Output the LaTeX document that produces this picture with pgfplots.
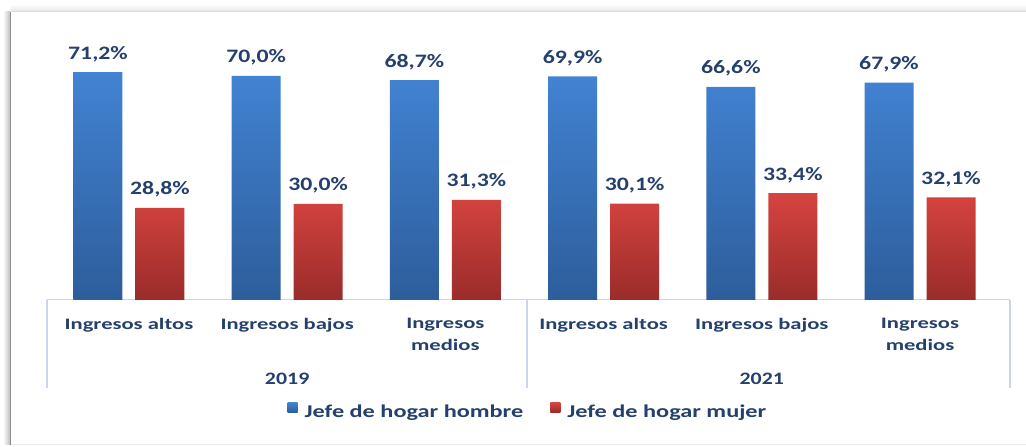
\documentclass[border=0pt]{standalone}
\usepackage{pgfplots}
\pgfplotsset{compat=1.18}
\usepackage{fontspec}
\setmainfont{Carlito}
\newfontfamily\fcatf{Carlito}[FakeStretch=1.41]
\newfontfamily\flabf{Carlito}[FakeStretch=1.25]
\newfontfamily\flegf{Carlito}[FakeStretch=1.35]
\newcommand\fcat{\fcatf\bfseries\fontsize{16bp}{21.5bp}\selectfont}
\newcommand\flab{\flabf\bfseries\fontsize{19bp}{22bp}\selectfont}
\newcommand\fyear{\flabf\bfseries\fontsize{17.5bp}{21bp}\selectfont}
\newcommand\fleg{\flegf\bfseries\fontsize{18bp}{21bp}\selectfont}
\definecolor{txt}{HTML}{24406C}
\definecolor{btop}{HTML}{4283D3}
\definecolor{bbot}{HTML}{2D5D9B}
\definecolor{rtop}{HTML}{D6443F}
\definecolor{rbot}{HTML}{9A2C2B}
\definecolor{sepc}{HTML}{C8D5EA}
\begin{document}
\begin{tikzpicture}[x=1bp,y=1bp]
% picture: x_px -> X = x_px - 47 ; y_px -> Y = 300 - y_px
\path[use as bounding box] (-47,-147) rectangle (979,300);
% frame
\shade[left color=white, right color=black!25] (-44,-145) rectangle (-37,288);
\draw[black!45, line width=1.5bp] (-36.5,-145) -- (-36.5,288);
\shade[top color=white, bottom color=black!10] (-36,288) rectangle (979,296);
\draw[black!15, line width=1bp] (-36,288) -- (979,288);
\draw[black!8, line width=1bp] (-36,-145) -- (979,-145);
\begin{axis}[
  scale only axis, width=963bp, height=256bp,
  xmin=-0.518, xmax=5.569, ymin=0, ymax=80,
  clip=false,
  axis y line=none, axis x line=bottom,
  x axis line style={-, draw=sepc, line width=1bp},
  xtick={0,...,5},
  xticklabels={Ingresos altos, Ingresos bajos, Ingresos\\medios, Ingresos altos, Ingresos bajos, Ingresos\\medios},
  major tick length=0pt,
  xticklabel style={font=\fcat, text=txt, align=center, anchor=north, inner sep=0pt, yshift=-18bp},
  ybar, bar width=49bp,
  nodes near coords={\pgfmathprintnumber[fixed,fixed zerofill,precision=1,use comma,assume math mode=true]{\pgfplotspointmeta}\%},
  every node near coord/.append style={font=\flab, text=txt, anchor=base, yshift=13bp, inner sep=0pt},
  legend style={font=\fleg, text=txt, draw=none, fill=none, at={(0.4995,-0.4375)}, anchor=center, legend columns=2, /tikz/every even column/.append style={column sep=25bp}},
  legend image code/.code={\fill[#1] (0bp,0bp) rectangle (10bp,9.5bp); \path (15bp,0bp);},
]
\addplot[bar shift=-31bp, draw=none, top color=btop, bottom color=bbot]
  coordinates {(0,71.2) (1,70.0) (2,68.7) (3,69.9) (4,66.6) (5,67.9)};
\addlegendentry{Jefe de hogar hombre}
\addplot[bar shift=31bp, draw=none, top color=rtop, bottom color=rbot]
  coordinates {(0,28.8) (1,30.0) (2,31.3) (3,30.1) (4,33.4) (5,32.1)};
\addlegendentry{Jefe de hogar mujer}
\node[font=\fyear, text=txt] at (axis cs:1,0) [yshift=-79bp] {2019};
\node[font=\fyear, text=txt] at (axis cs:4,0) [yshift=-79bp] {2021};
\end{axis}
\draw[sepc, line width=1.2bp] (0,0) -- (0,-88);
\draw[sepc, line width=1.2bp] (480,0) -- (480,-88);
\draw[sepc, line width=1.2bp] (963,0) -- (963,-88);
\end{tikzpicture}
\end{document}
